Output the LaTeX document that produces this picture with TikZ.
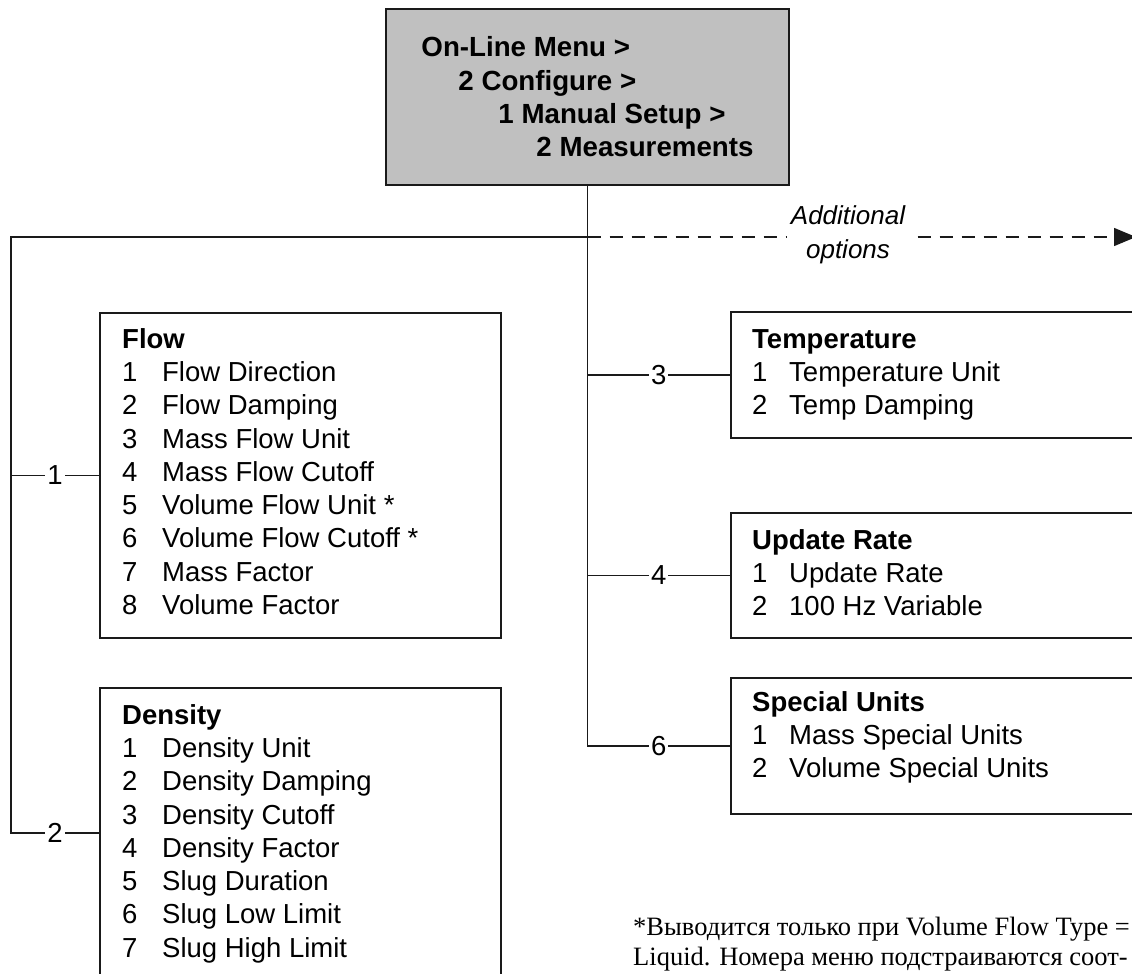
\documentclass[tikz,border=0pt]{standalone}
\usepackage{fontspec}
\setmainfont{Liberation Sans}
\newfontfamily\notefont{Liberation Serif}
\usetikzlibrary{arrows.meta}
\definecolor{menugray}{HTML}{C0C0C0}
\definecolor{ink}{HTML}{1A1A1A}
\newcommand\mitem[2]{\makebox[40pt][l]{#1}#2}
\newcommand\ritem[2]{\makebox[37pt][l]{#1}#2}
\begin{document}
\begin{tikzpicture}[x=1pt,y=-1pt,
  box/.style={draw=ink, line width=1.6pt, inner sep=0pt, anchor=north west},
  wire/.style={draw=ink, line width=1.5pt},
  dashwire/.style={wire, dash pattern=on 13pt off 9pt},
  itemtext/.style={anchor=north west, inner sep=0pt, align=left, font=\fontsize{27.5}{33.3}\selectfont},
  num/.style={fill=white, inner xsep=2pt, inner ysep=1pt, font=\fontsize{27.5}{30}\selectfont},
]
\useasboundingbox (0,0) rectangle (1132,974);
\clip (0,0) rectangle (1132,974);
\fill[white] (0,0) rectangle (1132,974);

% top menu box
\node[draw=ink, line width=1.6pt, fill=menugray, minimum width=403pt, minimum height=176pt,
      align=left, inner sep=0pt, font=\bfseries\fontsize{27.7}{33.3}\selectfont] (menu) at (587.5,97)
  {On-Line Menu >\\\hspace*{37pt}2 Configure >\\\hspace*{77pt}1 Manual Setup >\\\hspace*{115pt}2 Measurements};

% boxes
\node[box, minimum width=401pt, minimum height=325pt] (flow) at (99,312) {};
\node[box, minimum width=401pt, minimum height=400pt] (dens) at (99,687) {};
\node[box, minimum width=500pt, minimum height=126pt] (temp) at (730,311) {};
\node[box, minimum width=500pt, minimum height=125pt] (upd) at (730,512) {};
\node[box, minimum width=500pt, minimum height=136pt] (spec) at (730,677) {};

% box texts
\node[itemtext] (flowt) at (122,328) {\textbf{Flow}\\
  \mitem{1}{Flow Direction}\\
  \mitem{2}{Flow Damping}\\
  \mitem{3}{Mass Flow Unit}\\
  \mitem{4}{Mass Flow Cutoff}\\
  \mitem{5}{Volume Flow Unit *}\\
  \mitem{6}{Volume Flow Cutoff *}\\
  \mitem{7}{Mass Factor}\\
  \mitem{8}{Volume Factor}};
\node[itemtext] (denst) at (122,704) {\textbf{Density}\\
  \mitem{1}{Density Unit}\\
  \mitem{2}{Density Damping}\\
  \mitem{3}{Density Cutoff}\\
  \mitem{4}{Density Factor}\\
  \mitem{5}{Slug Duration}\\
  \mitem{6}{Slug Low Limit}\\
  \mitem{7}{Slug High Limit}};
\node[itemtext] (tempt) at (752,329) {\textbf{Temperature}\\
  \ritem{1}{Temperature Unit}\\
  \ritem{2}{Temp Damping}};
\node[itemtext] (updt) at (752,529) {\textbf{Update Rate}\\
  \ritem{1}{Update Rate}\\
  \ritem{2}{100 Hz Variable}};
\node[itemtext] (spect) at (752,691) {\textbf{Special Units}\\
  \ritem{1}{Mass Special Units}\\
  \ritem{2}{Volume Special Units}};

% connectors
\coordinate (jn) at (587.5,237);
\coordinate (lc) at (11,237);
\coordinate (dwest) at (99,833);
\coordinate (arrend) at (1136,237);
\draw[dashwire, -{Triangle[length=22pt,width=18pt]}] (jn) -- (arrend);
\node[fill=white, inner xsep=4pt, inner ysep=2pt, align=center,
      font=\itshape\fontsize{26}{34}\selectfont] (addl) at (848,235) {Additional\\options};
\draw[wire] (menu.south) |- node[num,pos=0.75]{6} (spec.west);
\draw[wire] (menu.south |- temp.west) -- node[num]{3} (temp.west);
\draw[wire] (menu.south |- upd.west) -- node[num]{4} (upd.west);
\draw[wire] (jn) -- (lc) |- node[num,pos=0.75]{2} (dwest);
\draw[wire] (lc |- flow.west) -- node[num]{1} (flow.west);

% footnote
\node[anchor=north west, inner sep=0pt, align=left, font=\notefont\fontsize{26.5}{30}\selectfont] (note) at (633,917)
  {*Выводится только при Volume Flow Type =\\Liquid. Номера меню подстраиваются соот-};
\end{tikzpicture}
\end{document}
